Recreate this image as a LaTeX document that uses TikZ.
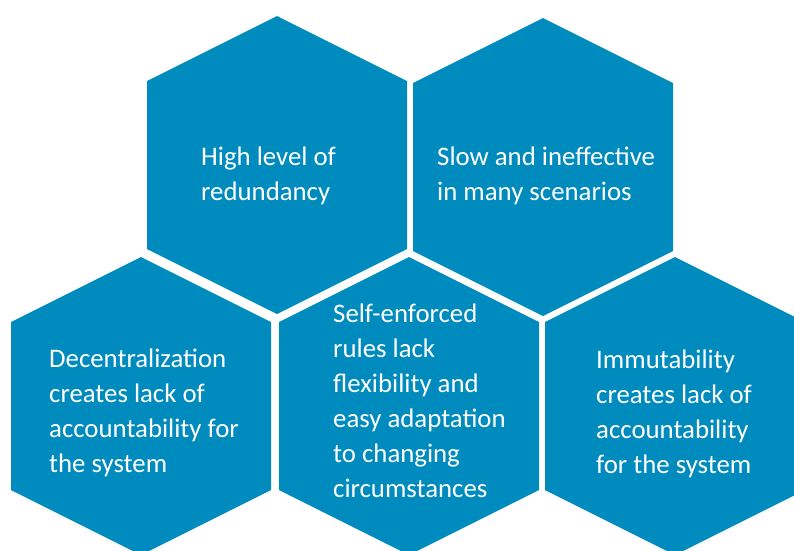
\documentclass[tikz,border=0pt]{standalone}
\usepackage{fontspec}
\setmainfont{Carlito}
\definecolor{hexblue}{RGB}{0,139,191}

\begin{document}
\begin{tikzpicture}
  [x=1pt,y=-1pt,
   hexfill/.style={fill=hexblue},
   every node/.style={text=white,align=left,anchor=base west,inner sep=0pt,
     font=\fontsize{26.8}{35}\selectfont}]
  \useasboundingbox (0,0) rectangle (794,550);
  \clip (0,0) rectangle (794,550);

  \foreach \cx/\cy in {277/165, 543/167, 141/406, 409/406, 675/406}
    \fill[hexfill] (\cx,\cy-149) -- ++(130,65) -- ++(0,168) -- ++(-130,65)
      -- ++(-130,-65) -- ++(0,-168) -- cycle;

  % base anchor sits on the last line
  \node (redund)    at (201,200) {High level of\\redundancy};
  \node (slow)      at (437,200) {Slow and ineffective\\in many scenarios};
  \node (decentral) at (49,472)  {Decentralization\\creates lack of\\accountability for\\the system};
  \node (selfrule)  at (333,497) {Self-enforced\\rules lack\\flexibility and\\easy adaptation\\to changing\\circumstances};
  \node (immut)     at (596,473) {Immutability\\creates lack of\\accountability\\for the system};

\end{tikzpicture}
\end{document}
